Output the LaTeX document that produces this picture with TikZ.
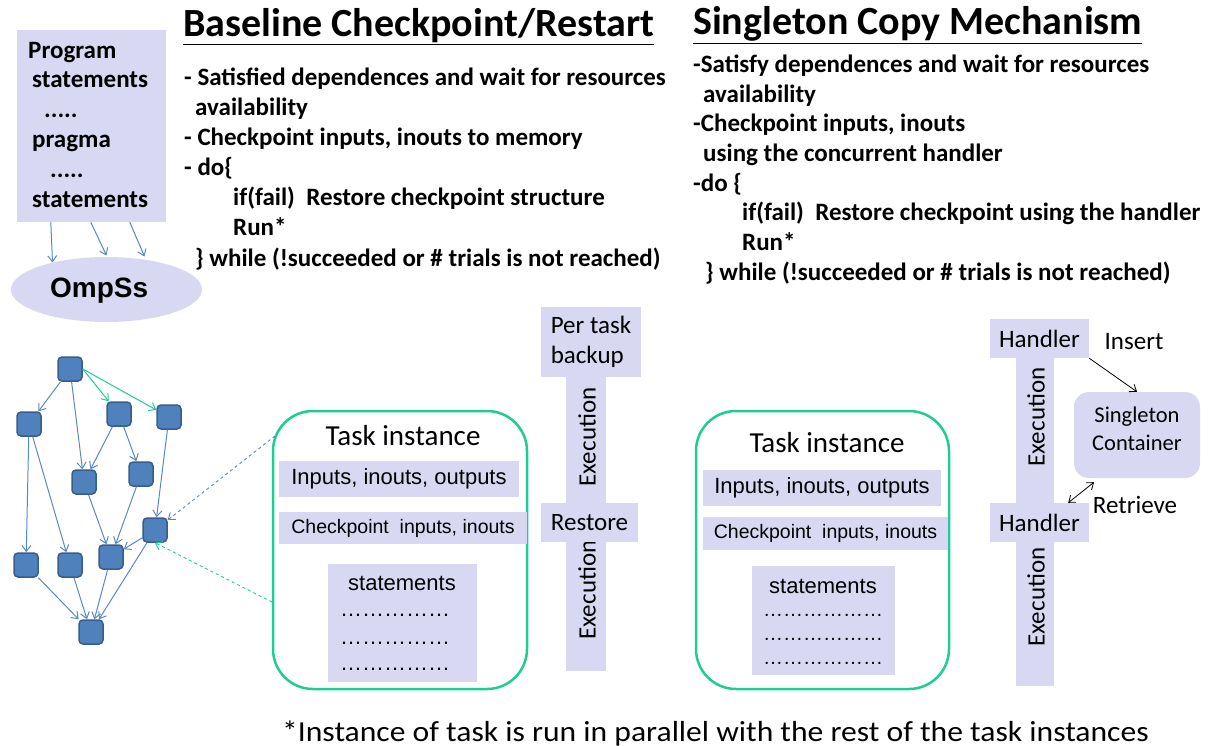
\documentclass[tikz,border=0pt]{standalone}
\usepackage{fontspec}
\setmainfont{Carlito}
\newfontfamily\arialf{Liberation Sans}
\usetikzlibrary{arrows.meta,shapes.geometric,calc}
\definecolor{lav}{RGB}{216,216,243}
\definecolor{tgreen}{RGB}{30,204,150}
\definecolor{nblue}{RGB}{79,129,189}
\definecolor{nborder}{RGB}{56,93,138}
\definecolor{eblue}{RGB}{90,136,196}
\newcommand{\fs}[2]{\fontsize{#1}{#2}\selectfont}
\begin{document}
\begin{tikzpicture}[x=1pt,y=-1pt,
  task/.style={draw=nborder,fill=nblue,line width=1.5pt,rounded corners=4pt,minimum size=24pt,inner sep=0pt},
  dep/.style={draw=eblue,line width=1pt,-{Straight Barb[length=6pt,width=9pt]}},
  depg/.style={dep,draw=tgreen},
  lavbox/.style={fill=lav,inner sep=0pt},
  txt/.style={anchor=base west,inner sep=0pt},
  btext/.style={txt,font=\bfseries\fs{25}{30}},
  ptext/.style={txt,font=\bfseries\fs{25}{30}},
  cal/.style={font=\fs{25}{30}},
  ar/.style={font=\arialf\fs{22}{26}},
  arsmall/.style={font=\arialf\fs{19.5}{24}},
  tbox/.style={draw=tgreen,line width=2.5pt,rounded corners=40pt,inner sep=0pt},
  blk/.style={draw=black,line width=0.8pt},
]
\useasboundingbox (0,0) rectangle (1208,746);

% ---------------- Program box and OmpSs
\node[lavbox,minimum width=149pt,minimum height=192pt] (prog) at (91.5,126) {};
\node[ptext] (p1) at (28,59) {Program};
\node[ptext] (p2) at (32,88) {statements};
\node[ptext] (p3) at (44,118) {.....};
\node[ptext] (p4) at (32,148) {pragma};
\node[ptext] (p5) at (50,178) {.....};
\node[ptext] (p6) at (32,208) {statements};
\node[ellipse,fill=lav,minimum width=191pt,minimum height=65pt,inner sep=0pt] (omp) at (106.5,289.5) {};
\node[txt,font=\arialf\bfseries\fs{28}{30}] (omptxt) at (50,298) {OmpSs};
\draw[dep] ($(prog.south west)+(34,0)$) -- ($(omp.center)+(-54,-27)$);
\draw[dep] ($(prog.south west)+(74,0)$) -- ($(omp.center)+(0,-34)$);
\draw[dep] ($(prog.south west)+(113,0)$) -- ($(omp.center)+(38,-33)$);

% ---------------- Titles and text blocks
\node[txt,font=\bfseries\fs{40}{44}] (t1) at (183,37) {\underline{Baseline Checkpoint/Restart}};
\node[txt,font=\bfseries\fs{40}{44}] (t2) at (693,35) {\underline{Singleton Copy Mechanism}};

\node[btext] (a1) at (184,86) {- Satisfied dependences and wait for resources};
\node[btext] (a2) at (195,116) {availability};
\node[btext] (a3) at (184,146) {- Checkpoint inputs, inouts to memory};
\node[btext] (a4) at (184,176) {- do\{};
\node[btext] (a5) at (233,206) {if(fail)\ \ Restore checkpoint structure};
\node[btext] (a6) at (233,236) {Run*};
\node[btext] (a7) at (195,266) {\} while (!succeeded or \# trials is not reached)};

\node[btext] (b1) at (693,72.5) {-Satisfy dependences and wait for resources};
\node[btext] (b2) at (703,102.2) {availability};
\node[btext] (b3) at (693,131.9) {-Checkpoint inputs, inouts};
\node[btext] (b4) at (703,161.6) {using the concurrent handler};
\node[btext] (b5) at (693,191.3) {-do \{};
\node[btext] (b6) at (742,221) {if(fail)\ \ Restore checkpoint using the handler};
\node[btext] (b7) at (742,250.7) {Run*};
\node[btext] (b8) at (705,280.4) {\} while (!succeeded or \# trials is not reached)};

% ---------------- DAG
\node[task] (n1) at (70,369) {};
\node[task] (n2) at (29,424) {};
\node[task] (n3) at (119,414) {};
\node[task] (n4) at (169,417) {};
\node[task] (n5) at (84,482) {};
\node[task] (n6) at (141,474) {};
\node[task] (n7) at (155,530) {};
\node[task] (n8) at (26,565) {};
\node[task] (n9) at (70,565) {};
\node[task] (n10) at (111,557) {};
\node[task] (n11) at (91,632) {};
\draw[dep] (n1) -- (n2);
\draw[dep] (n1) -- (n5);
\draw[depg] (n1.east) -- (n3);
\draw[depg] (n1.east) -- (n4);
\draw[dep] (n2) -- (n8);
\draw[dep] (n2) -- (n9);
\draw[dep] (n3) -- (n5);
\draw[dep] (n3) -- (n6);
\draw[dep] (n4) -- (n7);
\draw[dep] (n5) -- (n10);
\draw[dep] (n6) -- (n10);
\draw[dep] (n7) -- (n10);
\draw[dep] (n7) -- (n11);
\draw[dep] (n8) -- (n11);
\draw[dep] (n9) -- (n11);
\draw[dep] (n10) -- (n11);

% ---------------- Task instance 1
\node[tbox,minimum width=254pt,minimum height=278pt] (tb1) at (400,550) {};
\coordinate (c1) at (275,436);
\coordinate (c2) at (272,602);
\draw[dep,dashed,line width=0.9pt] (c1) -- (n7);
\draw[depg,dashed,line width=0.9pt] (c2) -- (n7.south);
\node[font=\fs{29}{32}] (ti1) at (403,436) {Task instance};
\node[lavbox,ar,minimum width=240pt,minimum height=36pt] (in1) at (399,479) {Inputs, inouts, outputs};
\node[lavbox,arsmall,minimum width=248pt,minimum height=32pt] (ck1) at (403,528) {Checkpoint\ \ inputs,\ inouts};
\node[lavbox,minimum width=149pt,minimum height=118pt] (st1) at (402.5,623) {};
\node[ar] (st1t) at (402,583) {statements};
\node[ar] (d11) at (395,615) {……………};
\node[ar] (d12) at (395,643) {……………};
\node[ar] (d13) at (395,669) {……………};

% ---------------- Execution column 1
\node[lavbox,minimum width=40pt,minimum height=294pt] (bar1) at (586,524) {};
\node[cal,rotate=90] (ex1) at (587,437) {Execution};
\node[cal,rotate=90] (ex2) at (587,590) {Execution};
\node[lavbox,cal,minimum width=97pt,minimum height=39pt] (rs) at (589.5,522.5) {Restore};
\node[lavbox,cal,align=left,minimum width=100pt,minimum height=70pt] (ptb) at (591,342) {Per task\\backup};

% ---------------- Task instance 2
\node[tbox,minimum width=253pt,minimum height=278pt] (tb2) at (822.5,550) {};
\node[font=\fs{29}{32}] (ti2) at (827,443) {Task instance};
\node[lavbox,ar,minimum width=238pt,minimum height=36pt] (in2) at (822,488) {Inputs, inouts, outputs};
\node[lavbox,arsmall,minimum width=245pt,minimum height=33pt] (ck2) at (825.5,533.5) {Checkpoint\ \ inputs,\ inouts};
\node[lavbox,minimum width=143pt,minimum height=109pt] (st2) at (823.5,620.5) {};
\node[ar] (st2t) at (823,586) {statements};
\node[ar,font=\arialf\fs{20}{24}] (d21) at (823,615) {………………};
\node[ar,font=\arialf\fs{20}{24}] (d22) at (823,639) {………………};
\node[ar,font=\arialf\fs{20}{24}] (d23) at (823,663) {………………};

% ---------------- Execution column 2
\node[lavbox,minimum width=38pt,minimum height=328pt] (bar2) at (1035,522) {};
\node[cal,rotate=90] (ex3) at (1036,417) {Execution};
\node[cal,rotate=90] (ex4) at (1036,597) {Execution};
\node[lavbox,cal,minimum width=99pt,minimum height=39pt] (h1) at (1039.5,338.5) {Handler};
\node[lavbox,cal,minimum width=99pt,minimum height=39pt] (h2) at (1039.5,522.5) {Handler};
\node[fill=lav,rounded corners=15pt,inner sep=0pt,minimum width=126pt,minimum height=86pt] (sc) at (1137,435) {};
\node[align=center,font=\fs{22.5}{28}] (sct) at (1137,429) {Singleton\\Container};
\node[cal] (ins) at (1134,342) {Insert};
\node[cal] (ret) at (1135,505) {Retrieve};
\draw[blk,-{Straight Barb[length=6pt,width=9pt]}] (h1.south east) -- (sc.north);
\draw[blk,{Straight Barb[length=6pt,width=9pt]}-{Straight Barb[length=6pt,width=9pt]}] ($(h2.north east)+(-21,0)$) -- ($(sc.south)+(-43,4)$);

% ---------------- Footnote
\node[anchor=base,inner sep=0pt,font=\fs{29}{32}] (foot) at (715.5,741) {\scalebox{1.09}[1]{*Instance of task is run in parallel with the rest of the task instances}};
\end{tikzpicture}
\end{document}
